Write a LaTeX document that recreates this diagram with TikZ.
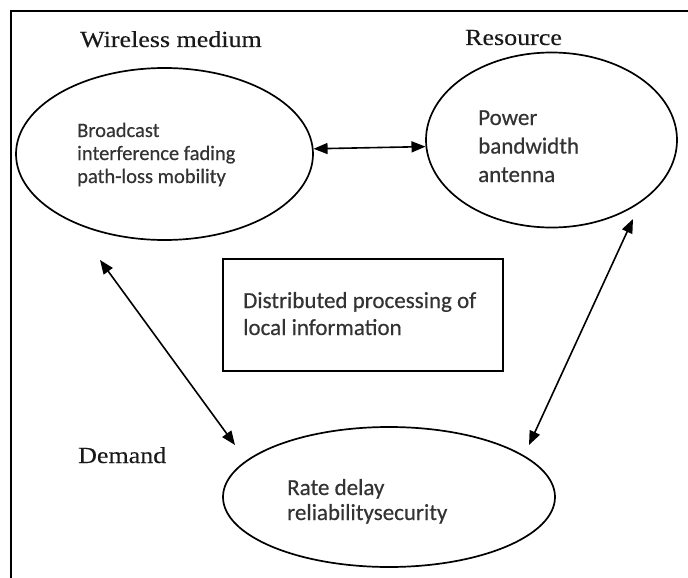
\documentclass[tikz,border=0pt]{standalone}
\usepackage{graphicx}
\usepackage{fontspec}
\setmainfont[FakeBold=0.25]{Liberation Serif}
\newfontfamily\bodysans[FakeBold=0.45]{Carlito}
\usetikzlibrary{arrows.meta,shapes.geometric}

% left-aligned text block, first baseline on the node's base
\newcommand\lines[1]{\begin{tabular}[t]{@{}l@{}}#1\end{tabular}}

\tikzset{
  ring/.style={draw, line width=1.7pt, ellipse, inner sep=0pt},
  heading/.style={anchor=base west, inner sep=0pt, text=black!90, font=\fontsize{23}{26}\selectfont},
  inner/.style={anchor=base west, inner sep=0pt, text=black!80},
  link/.style={line width=1.6pt, {Triangle[length=14pt,width=11pt]}-{Triangle[length=14pt,width=11pt]}},
}

\begin{document}
\begin{tikzpicture}[x=1pt, y=-1pt]
  \useasboundingbox (0,0) rectangle (688,578);

  % outer frame, running off the right and bottom edges
  \draw[line width=2.8pt] (11,600) -- (11,11) -- (700,11);

  % the three ellipses
  \node[ring, minimum width=297pt, minimum height=172pt] (medium) at (164.5,154) {};
  \node[ring, minimum width=251pt, minimum height=175pt] (resource) at (551.5,140) {};
  \node[ring, minimum width=332pt, minimum height=140pt] (demand) at (389,497) {};

  % central box
  \node[draw, line width=1.7pt, minimum width=280pt, minimum height=112pt, inner sep=0pt] (proc) at (363,315) {};

  % headings
  \node[heading] (hmedium) at (80,47) {\scalebox{1.13}[1]{Wireless medium}};
  \node[heading] (hresource) at (465,45) {\scalebox{1.13}[1]{Resource}};
  \node[heading] (hdemand) at (78,463) {\scalebox{1.13}[1]{Demand}};

  % texts inside the shapes
  \node[inner, font=\bodysans\fontsize{20.5}{23}\selectfont] (tmedium) at (77,137)
    {\lines{Broadcast\\interference fading\\path-loss mobility}};
  \node[inner, font=\bodysans\fontsize{23}{28.5}\selectfont] (tresource) at (478,125)
    {\lines{Power\\bandwidth\\antenna}};
  \node[inner, font=\bodysans\fontsize{23}{27}\selectfont] (tproc) at (243,308)
    {\lines{Distributed processing of\\local information}};
  \node[inner, font=\bodysans\fontsize{23}{25}\selectfont] (tdemand) at (287,495)
    {\lines{Rate delay\\reliabilitysecurity}};

  % free ends of the diagonal connectors
  \coordinate (mlow) at (100,260);
  \coordinate (dleft) at (235,445);
  \coordinate (rlow) at (633,219);
  \coordinate (dright) at (529,445);

  % connectors
  \draw[link] (medium.2.7) -- (resource.183.2);
  \draw[link] (mlow) -- (dleft);
  \draw[link] (rlow) -- (dright);
\end{tikzpicture}
\end{document}
